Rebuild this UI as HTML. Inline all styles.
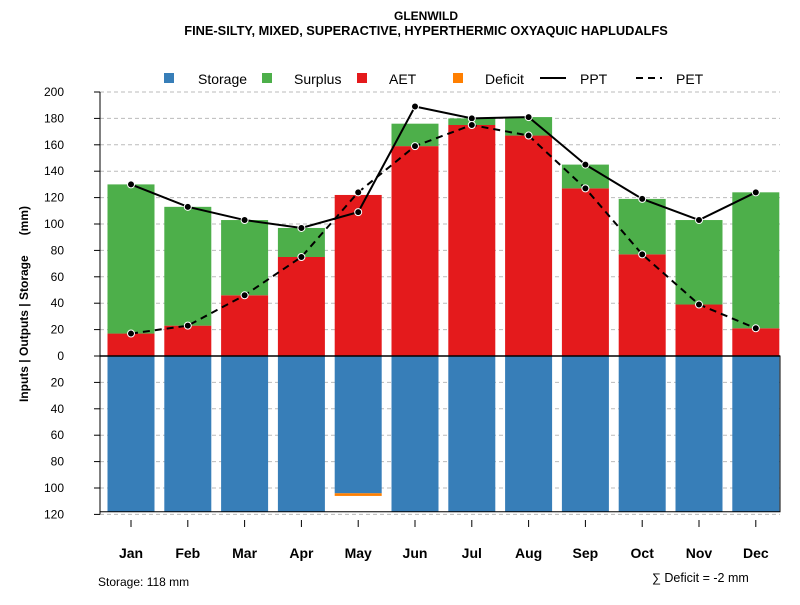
<!DOCTYPE html>
<html><head><meta charset="utf-8"><style>
body{margin:0;background:#fff;font-family:"Liberation Sans",sans-serif}
svg text{font-family:"Liberation Sans",sans-serif}
</style></head><body>
<svg id="c" width="800" height="600" xmlns="http://www.w3.org/2000/svg">
<text x="426" y="20" font-size="12" font-weight="bold" text-anchor="middle">GLENWILD</text>
<text x="426" y="35" font-size="12.8" font-weight="bold" text-anchor="middle">FINE-SILTY, MIXED, SUPERACTIVE, HYPERTHERMIC OXYAQUIC HAPLUDALFS</text>
<g id="legend" font-size="14">
<rect x="164" y="73" width="10" height="10" fill="#377eb8"/>
<text x="198" y="84">Storage</text>
<rect x="262" y="73" width="10" height="10" fill="#4daf4a"/>
<text x="294" y="84">Surplus</text>
<rect x="357" y="73" width="10" height="10" fill="#e41a1c"/>
<text x="389" y="84">AET</text>
<rect x="453" y="73" width="10" height="10" fill="#ff7f00"/>
<text x="485" y="84">Deficit</text>
<line x1="540" y1="78" x2="566" y2="78" stroke="#000" stroke-width="2"/>
<text x="580" y="84">PPT</text>
<line x1="636" y1="78" x2="662" y2="78" stroke="#000" stroke-width="2" stroke-dasharray="7,5"/>
<text x="676" y="84">PET</text>
</g>
<g id="grid"></g><g id="bars"></g><g id="lines"></g><g id="axes"></g>
<text transform="translate(28,304) rotate(-90)" font-size="12" font-weight="bold" text-anchor="middle" xml:space="preserve">Inputs | Outputs | Storage      (mm)</text>
<text x="98" y="586" font-size="12">Storage: 118 mm</text>
<text x="652" y="582" font-size="12.5">∑ Deficit = -2 mm</text>
</svg>
<script>
const months=["Jan","Feb","Mar","Apr","May","Jun","Jul","Aug","Sep","Oct","Nov","Dec"];
const ppt=[130,113,103,97,109,189,180,181,145,119,103,124];
const pet=[17,23,46,75,124,159,175,167,127,77,39,21];
const aet=[17,23,46,75,122,159,175,167,127,77,39,21];
const surplus=[113,90,57,22,0,17,5,14,18,42,64,103];
const storage=[118,118,118,118,104,118,118,118,118,118,118,118];
const deficit=[0,0,0,0,2,0,0,0,0,0,0,0];
const yTicks=[200,180,160,140,120,100,80,60,40,20,0,-20,-40,-60,-80,-100,-120];
const NS="http://www.w3.org/2000/svg";
const y=v=>356-v*1.32;
const x=i=>131+i*56.8;
const bw=47;
function mk(p,t,a){const e=document.createElementNS(NS,t);for(const k in a)e.setAttribute(k,a[k]);document.getElementById(p).appendChild(e);return e;}
yTicks.forEach(t=>{
 if(t!==0){const g=mk('grid','line',{x1:100,x2:780,y1:y(t),y2:y(t),stroke:'#bbb','stroke-dasharray':'4,3'});
 
 }
 const tk=mk('axes','line',{x1:94,x2:100,y1:y(t),y2:y(t),stroke:'#000'});
 
 
 const l=mk('axes','text',{x:64,y:y(t)+4,'font-size':12,'text-anchor':'end'});
 
 
 l.textContent=Math.abs(t);
});
const ax=mk('axes','line',{x1:100,x2:100,y1:y(200),y2:y(-120),stroke:'#000'});


months.forEach((m,i)=>{
 const cx=x(i);
 let r=mk('bars','rect',{x:cx-bw/2,y:y(0),width:bw,height:storage[i]*1.32,fill:'#377eb8'});
 
 
 if(deficit[i]>0){r=mk('bars','rect',{x:cx-bw/2,y:y(-storage[i]),width:bw,height:deficit[i]*1.32,fill:'#ff7f00'});
 
 }
 r=mk('bars','rect',{x:cx-bw/2,y:y(aet[i]),width:bw,height:aet[i]*1.32,fill:'#e41a1c'});
 
 
 if(surplus[i]>0){r=mk('bars','rect',{x:cx-bw/2,y:y(aet[i]+surplus[i]),width:bw,height:surplus[i]*1.32,fill:'#4daf4a'});
 
 }
 const t=mk('axes','line',{x1:cx,x2:cx,y1:520,y2:527,stroke:'#000'});
 
 
 const l=mk('axes','text',{x:cx,y:558,'font-size':14,'font-weight':'bold','text-anchor':'middle'});
 
 
 l.textContent=m;
});
let b=mk('bars','rect',{x:100,y:y(0),width:680,height:118*1.32,fill:'none',stroke:'#000'});


b=mk('bars','line',{x1:100,x2:780,y1:y(0),y2:y(0),stroke:'#000','stroke-width':1.5});


[[ppt,'','ppt'],[pet,'7,5','pet']].forEach(([d,da,n])=>{
 const p=mk('lines','polyline',{points:d.map((v,i)=>x(i)+','+y(v)).join(' '),fill:'none',stroke:'#000','stroke-width':2,'stroke-dasharray':da});
 
 
 d.forEach((v,i)=>{const c=mk('lines','circle',{cx:x(i),cy:y(v),r:3.5,fill:'#000',stroke:'#fff','stroke-width':1});
 
 });
});
</script>
</body></html>
